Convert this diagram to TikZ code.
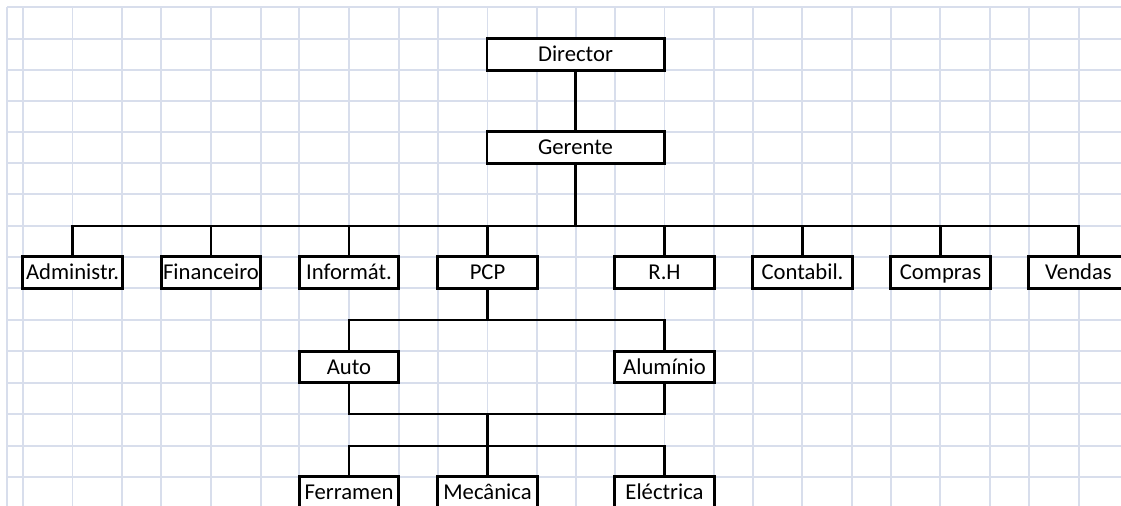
\documentclass[tikz,border=0pt]{standalone}
\usepackage{fontspec}
\setmainfont{Carlito}
\usetikzlibrary{positioning, calc}
\definecolor{gridline}{RGB}{216,222,236}
\tikzset{
  cellbox/.style={draw, line width=2.2pt, fill=white, inner sep=0pt, minimum width=74.6pt,
    minimum height=23.5pt, text height=11pt, text depth=0pt, font=\fontsize{17}{20}\selectfont},
  widebox/.style={cellbox, minimum width=132.8pt},
  link/.style={line width=2.2pt}
}

\begin{document}
\begin{tikzpicture}[x=0.75pt, y=-0.75pt]
    \useasboundingbox (0,0) rectangle (1121,506);
    \clip (0,0) rectangle (1121,506);
    \fill[white] (0,0) rectangle (1121,506);
    \foreach \x in {7,23,72.5,122,161,211,261,299,349,399,438,487.5,537,576,615,664.5,714,753,802,852,891,940,990,1029,1079} {
        \draw[gridline, line width=1.2pt] (\x,7) -- (\x,506);
    }
    \foreach \y in {7,39,70,101,132,163,194,226,257,288,320,351,383,414,446,477} {
        \draw[gridline, line width=1.2pt] (7,\y) -- (1121,\y);
    }
    \node[widebox] (director) at (575.5,54.5) {Director};
    \node[widebox] (gerente) at (575.5,147.5) {Gerente};
    \foreach \name/\txt/\x in {admin/Administr./72.5, financ/Financeiro/211, inform/Informát./349,
        pcp/PCP/487.5, rh/R.H/664.5, contab/Contabil./802.5, compras/Compras/940.5, vendas/Vendas/1078.5} {
        \node[cellbox] (\name) at (\x,272.5) {\txt};
    }
    \node[cellbox] (auto) at (349,367) {Auto};
    \node[cellbox] (alum) at (664.5,367) {Alumínio};
    \node[cellbox] (ferr) at (349,492.5) {Ferramen};
    \node[cellbox] (mec) at (487.5,492.5) {Mecânica};
    \node[cellbox] (elec) at (664.5,492.5) {Eléctrica};

    \coordinate (bus1) at (575.5,226);
    \draw[link] (director) -- (gerente);
    \draw[link] (gerente) -- (bus1);
    \foreach \name in {admin, financ, inform, pcp, rh, contab, compras, vendas} {
        \draw[link] (bus1) -| (\name.north);
    }
    \coordinate (bus2) at (487.5,320);
    \draw[link] (pcp) -- (bus2);
    \draw[link] (bus2) -| (auto.north);
    \draw[link] (bus2) -| (alum.north);
    \coordinate (bus3) at (487.5,414);
    \draw[link] (auto.south) |- (bus3) -| (alum.south);
    \coordinate (bus4) at (487.5,446);
    \draw[link] (bus3) -- (mec.north);
    \draw[link] (bus4) -| (ferr.north);
    \draw[link] (bus4) -| (elec.north);
\end{tikzpicture}
\end{document}
